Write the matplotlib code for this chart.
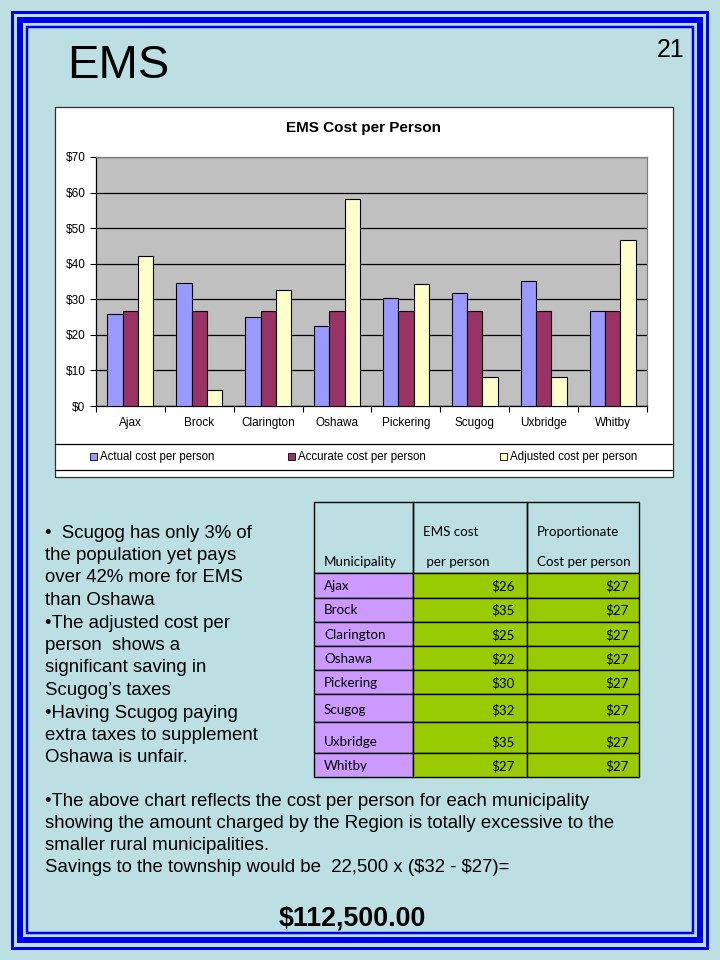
import matplotlib
matplotlib.use("Agg")
import matplotlib.pyplot as plt
from matplotlib.patches import Rectangle
from matplotlib.lines import Line2D
import numpy as np

plt.rcParams["text.parse_math"] = False

# ---------------- data ----------------
categories = ["Ajax", "Brock", "Clarington", "Oshawa", "Pickering", "Scugog", "Uxbridge", "Whitby"]
actual_cost = [25.8, 34.7, 24.9, 22.5, 30.3, 31.9, 35.1, 26.6]
accurate_cost = [26.6, 26.6, 26.6, 26.6, 26.6, 26.6, 26.6, 26.6]
adjusted_cost = [42.2, 4.5, 32.5, 58.1, 34.4, 8.1, 8.1, 46.8]
series_names = ["Actual cost per person", "Accurate cost per person", "Adjusted cost per person"]
y_ticks = [0, 10, 20, 30, 40, 50, 60, 70]

table_header = [["", "Municipality"], ["EMS cost", " per person"], ["Proportionate", "Cost per person"]]
table_names = ["Ajax", "Brock", "Clarington", "Oshawa", "Pickering", "Scugog", "Uxbridge", "Whitby"]
table_ems = ["$26", "$35", "$25", "$22", "$30", "$32", "$35", "$27"]
table_prop = ["$27", "$27", "$27", "$27", "$27", "$27", "$27", "$27"]

bullets_left = [
    "\u2022  Scugog has only 3% of",
    "the population yet pays",
    "over 42% more for EMS",
    "than Oshawa",
    "\u2022The adjusted cost per",
    "person  shows a",
    "significant saving in",
    "Scugog\u2019s taxes",
    "\u2022Having Scugog paying",
    "extra taxes to supplement",
    "Oshawa is unfair.",
]
bottom_lines = [
    "\u2022The above chart reflects the cost per person for each municipality",
    "showing the amount charged by the Region is totally excessive to the",
    "smaller rural municipalities.",
    "Savings to the township would be  22,500 x ($32 - $27)=",
]
savings_text = "$112,500.00"

# ---------------- styles ----------------
W, H = 720, 960
BG = "#BBDFE3"
BLUE = "#0000F0"
colors = ["#9999FF", "#993366", "#FFFFCC"]
ARIAL = "Liberation Sans"
TABLE_FONT = "Lato"

fig = plt.figure(figsize=(7.2, 9.6), dpi=100, facecolor=BG)


def fx(x):
    return x / W


def fy(y):
    return 1 - y / H


def frect(x0, y0, x1, y1, **kw):
    r = Rectangle((fx(x0), fy(y1)), (x1 - x0) / W, (y1 - y0) / H,
                  transform=fig.transFigure, **kw)
    fig.add_artist(r)
    return r


def fline(x0, y0, x1, y1, **kw):
    l = Line2D([fx(x0), fx(x1)], [fy(y0), fy(y1)], transform=fig.transFigure, **kw)
    fig.add_artist(l)
    return l


# ---------------- slide border ----------------
px = 0.72  # points per pixel
frect(11.5, 11.5, 707.5, 947.5, facecolor="none", edgecolor=BLUE, lw=3 * px)
frect(20, 20, 700, 940, facecolor="none", edgecolor=BLUE, lw=6 * px)
frect(27, 27, 693, 933, facecolor="none", edgecolor=BLUE, lw=2.5 * px)

# ---------------- slide title ----------------
fig.text(fx(67), fy(78), "EMS", fontsize=34, family=ARIAL, va="baseline", ha="left")
fig.text(fx(685), fy(57), "21", fontsize=18, family=ARIAL, va="baseline", ha="right")

# ---------------- chart box ----------------
frect(55, 107, 673, 477, facecolor="white", edgecolor="#303030", lw=0.9, zorder=-1)
fline(55, 444, 673, 444, color="black", lw=0.9)
fline(55, 470, 673, 470, color="black", lw=0.9)

fig.text(fx(364), fy(128), "EMS Cost per Person", fontsize=11, fontweight="bold",
         family=ARIAL, ha="center", va="center")

ax = fig.add_axes([fx(96), fy(406), (647 - 96) / W, (406 - 157) / H])
ax.set_facecolor("#C0C0C0")
x = np.arange(len(categories))
bw = 1 / 4.5
for i, (vals, c) in enumerate(zip([actual_cost, accurate_cost, adjusted_cost], colors)):
    ax.bar(x + (i - 1) * bw, vals, width=bw, color=c, edgecolor="black", lw=0.8, zorder=3)

ax.set_xlim(-0.5, len(categories) - 0.5)
ax.set_ylim(0, 70)
ax.set_yticks(y_ticks)
ax.set_yticklabels([f"${v}" for v in y_ticks], fontsize=8.5, family=ARIAL)
ax.yaxis.grid(True, color="black", lw=0.9)
ax.set_axisbelow(True)
ax.set_xticks(np.arange(-0.5, len(categories)), labels=[""] * (len(categories) + 1))
ax.set_xticks(x, labels=categories, minor=True)
ax.tick_params(axis="x", which="minor", length=0, pad=8, labelsize=8.5)
ax.tick_params(axis="x", which="major", length=4.5, direction="out", width=0.8)
ax.tick_params(axis="y", length=4.5, direction="out", width=0.8, pad=3)
for lab in ax.get_xticklabels(minor=True):
    lab.set_family(ARIAL)
for s in ["top", "right"]:
    ax.spines[s].set_color("#808080")
    ax.spines[s].set_linewidth(0.9)
for s in ["left", "bottom"]:
    ax.spines[s].set_color("black")
    ax.spines[s].set_linewidth(0.9)

# legend (manual, to match Excel layout)
leg_x = [90, 288, 499.5]
for lx, name, c in zip(leg_x, series_names, colors):
    frect(lx, 453, lx + 7, 460, facecolor=c, edgecolor="black", lw=0.6)
    fig.text(fx(lx + 10), fy(457), name, fontsize=8.3, family=ARIAL, ha="left", va="center")

# ---------------- left bullet text ----------------
for i, line in enumerate(bullets_left):
    fig.text(fx(45), fy(537.5 + 22.5 * i), line, fontsize=13.4, family=ARIAL,
             ha="left", va="baseline")

# ---------------- table ----------------
col_x = [314, 413, 527, 639]
row_y = [502, 573, 598, 622, 646, 670, 694, 722, 753, 777]
text_y = [586, 610, 635, 659, 683, 710, 742, 766]
LW = 1.0
for c in range(3):
    frect(col_x[c], row_y[0], col_x[c + 1], row_y[1], facecolor="none", edgecolor="black", lw=LW)
hx = [324, 423, 537]
for c in range(3):
    top, bottom = table_header[c]
    if top:
        fig.text(fx(hx[c]), fy(532), top, fontsize=9.6, family=TABLE_FONT, ha="left", va="center")
    fig.text(fx(hx[c]), fy(562), bottom, fontsize=9.6, family=TABLE_FONT, ha="left", va="center")
for r in range(len(table_names)):
    y0, y1 = row_y[r + 1], row_y[r + 2]
    frect(col_x[0], y0, col_x[1], y1, facecolor="#CC99FF", edgecolor="black", lw=LW)
    frect(col_x[1], y0, col_x[2], y1, facecolor="#99CC00", edgecolor="black", lw=LW)
    frect(col_x[2], y0, col_x[3], y1, facecolor="#99CC00", edgecolor="black", lw=LW)
    ty = text_y[r]
    fig.text(fx(324), fy(ty), table_names[r], fontsize=9.6, family=TABLE_FONT, ha="left", va="center")
    fig.text(fx(515), fy(ty), table_ems[r], fontsize=9.6, family=TABLE_FONT, ha="right", va="center")
    fig.text(fx(629), fy(ty), table_prop[r], fontsize=9.6, family=TABLE_FONT, ha="right", va="center")

# ---------------- bottom text ----------------
for i, line in enumerate(bottom_lines):
    fig.text(fx(45), fy(806 + 22 * i), line, fontsize=13.4, family=ARIAL,
             ha="left", va="baseline")
fig.text(fx(279), fy(925), savings_text, fontsize=19.3, fontweight="bold", family=ARIAL,
         ha="left", va="baseline")

fig.savefig("out.png", dpi=100, facecolor=BG)
